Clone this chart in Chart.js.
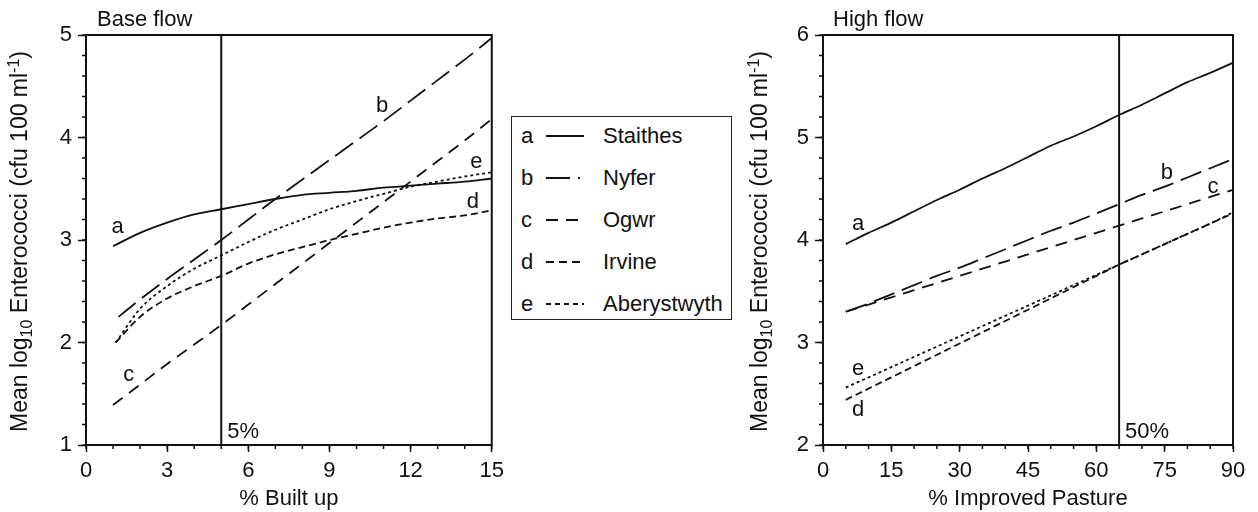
<!DOCTYPE html>
<html>
<head>
<meta charset="utf-8">
<script src="https://cdn.jsdelivr.net/npm/chart.js@4.4.1/dist/chart.umd.min.js"></script>
<style>
  body { margin: 0; background: #fff; width: 1258px; height: 512px; position: relative; overflow: hidden;
         font-family: 'Liberation Sans', Arial, sans-serif; color: #111; }
  .panel { position: absolute; top: 0; height: 512px; }
  #basePanel { left: 0; width: 510px; }
  #highPanel { left: 740px; width: 518px; }
  #legend { position: absolute; left: 511px; top: 116px; width: 221px; height: 204px;
            border: 1.5px solid #222; box-sizing: border-box; }
  .row { position: absolute; left: 0; width: 100%; height: 30px; line-height: 30px; font-size: 22px; }
  .row .code { position: absolute; left: 9px; }
  .row svg { position: absolute; left: 34px; top: 10px; }
  .row .name { position: absolute; left: 91px; }
</style>
</head>
<body>
<div class="panel" id="basePanel"><canvas id="baseChart"></canvas></div>
<div id="legend"></div>
<div class="panel" id="highPanel"><canvas id="highChart"></canvas></div>
<script>
Chart.defaults.font.family = "'Liberation Sans', Arial, sans-serif";
Chart.defaults.font.size = 22;
Chart.defaults.color = '#111';
Chart.defaults.animation = false;

const SERIES_CODES = ['a', 'b', 'c', 'd', 'e'];
const SERIES_NAMES = ['Staithes', 'Nyfer', 'Ogwr', 'Irvine', 'Aberystwyth'];

// Base flow, x = % built up. First value of each curve sits at its own start x,
// the rest at BASE_X.
const BASE_X = [2, 3, 4, 5, 6, 7, 8, 9, 10, 11, 12, 13, 14, 15];
const BASE_START_X = [1.0, 1.2, 1.0, 1.1, 1.1];
const BASE_A = [2.94, 3.07, 3.17, 3.25, 3.30, 3.35, 3.40, 3.44, 3.46, 3.48, 3.51, 3.53, 3.55, 3.57, 3.60];
const BASE_B = [2.25, 2.42, 2.62, 2.81, 3.00, 3.20, 3.40, 3.59, 3.78, 3.97, 4.16, 4.36, 4.56, 4.76, 4.97];
const BASE_C = [1.39, 1.59, 1.79, 1.98, 2.17, 2.37, 2.57, 2.77, 2.97, 3.17, 3.37, 3.57, 3.77, 3.97, 4.18];
const BASE_D = [2.00, 2.25, 2.43, 2.55, 2.65, 2.77, 2.86, 2.93, 3.00, 3.06, 3.12, 3.17, 3.21, 3.24, 3.29];
const BASE_E = [2.00, 2.33, 2.55, 2.72, 2.85, 2.98, 3.10, 3.20, 3.30, 3.38, 3.45, 3.52, 3.57, 3.62, 3.66];
const BASE_REF_X = 5;
const BASE_X_TICKS = [0, 3, 6, 9, 12, 15];
const BASE_Y_TICKS = [1, 2, 3, 4, 5];
const BASE_LABEL_X = [1.17, 10.95, 1.58, 14.3, 14.43];
const BASE_LABEL_Y = [3.13, 4.31, 1.68, 3.37, 3.76];

// High flow, x = % improved pasture
const HIGH_X = [5, 10, 15, 20, 25, 30, 35, 40, 45, 50, 55, 60, 65, 70, 75, 80, 85, 90];
const HIGH_A = [3.96, 4.07, 4.17, 4.28, 4.39, 4.49, 4.60, 4.70, 4.81, 4.92, 5.01, 5.11, 5.22, 5.32, 5.43, 5.54, 5.63, 5.73];
const HIGH_B = [3.30, 3.38, 3.47, 3.56, 3.65, 3.73, 3.82, 3.91, 4.00, 4.09, 4.17, 4.26, 4.35, 4.44, 4.52, 4.61, 4.70, 4.79];
const HIGH_C = [3.30, 3.37, 3.44, 3.51, 3.58, 3.65, 3.72, 3.79, 3.86, 3.93, 4.00, 4.07, 4.14, 4.21, 4.28, 4.35, 4.42, 4.49];
const HIGH_D = [2.44, 2.55, 2.66, 2.77, 2.88, 2.99, 3.10, 3.21, 3.32, 3.43, 3.54, 3.65, 3.76, 3.86, 3.96, 4.06, 4.16, 4.26];
const HIGH_E = [2.56, 2.66, 2.76, 2.86, 2.96, 3.06, 3.16, 3.26, 3.36, 3.46, 3.56, 3.66, 3.76, 3.86, 3.96, 4.06, 4.16, 4.27];
const HIGH_REF_X = 65;
const HIGH_X_TICKS = [0, 15, 30, 45, 60, 75, 90];
const HIGH_Y_TICKS = [2, 3, 4, 5, 6];
const HIGH_LABEL_X = [7.7, 75.5, 85.6, 7.7, 7.7];
const HIGH_LABEL_Y = [4.16, 4.65, 4.52, 2.34, 2.74];

const DASHES = [[], [22, 8], [12, 8], [7, 4], [3, 3]];
const LEGEND_DASH = ['none', '24,8,2,8', '12,8', '8,5', '5,4'];

// legend box between the panels
const legendBox = document.getElementById('legend');
SERIES_CODES.forEach((c, i) => {
  const row = document.createElement('div');
  row.className = 'row';
  row.style.top = (4 + i * 42) + 'px';
  row.innerHTML = `<span class="code">${c}</span>` +
    `<svg width="40" height="10"><line x1="0" y1="5" x2="38" y2="5" stroke="#111" stroke-width="2" stroke-dasharray="${LEGEND_DASH[i]}"/></svg>` +
    `<span class="name">${SERIES_NAMES[i]}</span>`;
  legendBox.appendChild(row);
});

const decor = {
  id: 'decor',
  afterDatasetsDraw(chart, args, o) {
    const { ctx, chartArea: ca, scales: { x, y } } = chart;
    ctx.save();
    ctx.strokeStyle = '#111';
    ctx.lineWidth = 2;
    ctx.strokeRect(ca.left, ca.top, ca.right - ca.left, ca.bottom - ca.top);

    // minor ticks
    ctx.lineWidth = 1.5;
    ctx.beginPath();
    for (let v = x.min; v <= x.max + 1e-9; v += o.minorX) {
      const px = x.getPixelForValue(v);
      ctx.moveTo(px, ca.bottom); ctx.lineTo(px, ca.bottom + 4);
    }
    for (let v = y.min; v <= y.max + 1e-9; v += o.minorY) {
      const py = y.getPixelForValue(v);
      ctx.moveTo(ca.left, py); ctx.lineTo(ca.left - 4, py);
    }
    ctx.stroke();

    ctx.fillStyle = '#111';
    ctx.font = "22px 'Liberation Sans', Arial, sans-serif";
    ctx.textAlign = 'left';
    ctx.textBaseline = 'alphabetic';
    ctx.fillText(o.title, o.titleX, 26);
    ctx.textAlign = 'center';
    ctx.fillText(o.xTitle, (ca.left + ca.right) / 2, 505);

    // curve letters
    ctx.textBaseline = 'middle';
    SERIES_CODES.forEach((c, i) => {
      ctx.fillText(c, x.getPixelForValue(o.labelX[i]), y.getPixelForValue(o.labelY[i]));
    });
    ctx.textAlign = 'left';
    ctx.fillText(o.refLabel, x.getPixelForValue(o.refX) + 6, ca.bottom - 13);

    // y title with subscript / superscript
    const parts = [
      { t: 'Mean log', s: 1, dy: 0 },
      { t: '10', s: 0.68, dy: 5 },
      { t: ' Enterococci (cfu 100 ml', s: 1, dy: 0 },
      { t: '-1', s: 0.68, dy: -8 },
      { t: ')', s: 1, dy: 0 }
    ];
    ctx.translate(27, 432);
    ctx.rotate(-Math.PI / 2);
    ctx.textBaseline = 'alphabetic';
    let cx = 0;
    parts.forEach(p => {
      ctx.font = `${Math.round(23 * p.s)}px 'Liberation Sans', Arial, sans-serif`;
      ctx.fillText(p.t, cx, p.dy);
      cx += ctx.measureText(p.t).width;
    });
    ctx.restore();
  }
};

function makeChart(id, o) {
  const datasets = o.series.map((vals, i) => ({
    label: SERIES_NAMES[i],
    data: vals.map((v, k) => ({ x: o.xs[i][k], y: v })),
    borderColor: '#111',
    borderWidth: 1.8,
    borderDash: DASHES[i],
    pointRadius: 0,
    cubicInterpolationMode: 'monotone'
  }));
  datasets.push({
    label: 'ref',
    data: [{ x: o.refX, y: o.yTicks[0] }, { x: o.refX, y: o.yTicks[o.yTicks.length - 1] }],
    borderColor: '#111',
    borderWidth: 2,
    pointRadius: 0
  });

  const canvas = document.getElementById(id);
  canvas.width = o.width;
  canvas.height = 512;

  return new Chart(canvas, {
    type: 'line',
    data: { datasets },
    options: {
      responsive: false,
      layout: { padding: { top: 35, right: o.padRight, left: 0, bottom: 0 } },
      plugins: {
        legend: { display: false },
        tooltip: { enabled: false },
        decor: {
          minorX: o.minorX, minorY: o.minorY,
          title: o.title, titleX: o.titleX, xTitle: o.xTitle,
          labelX: o.labelX, labelY: o.labelY,
          refX: o.refX, refLabel: o.refLabel
        }
      },
      scales: {
        x: {
          type: 'linear',
          min: o.xTicks[0], max: o.xTicks[o.xTicks.length - 1],
          afterBuildTicks: s => { s.ticks = o.xTicks.map(v => ({ value: v })); },
          afterFit: s => { s.height = 67; },
          grid: { drawOnChartArea: false, tickLength: 7, tickColor: '#111', tickWidth: 1.5 },
          border: { color: '#111', width: 2 },
          ticks: { padding: 6, maxRotation: 0, color: '#111', font: { size: 22 } }
        },
        y: {
          type: 'linear',
          min: o.yTicks[0], max: o.yTicks[o.yTicks.length - 1],
          afterBuildTicks: s => { s.ticks = o.yTicks.map(v => ({ value: v })); },
          afterFit: s => { s.width = o.yWidth; },
          grid: { drawOnChartArea: false, tickLength: 8, tickColor: '#111', tickWidth: 1.5 },
          border: { color: '#111', width: 2 },
          ticks: { padding: 6, color: '#111', font: { size: 22 } }
        }
      }
    },
    plugins: [decor]
  });
}

const baseXs = BASE_START_X.map(s => [s].concat(BASE_X));
makeChart('baseChart', {
  width: 510, padRight: 15, yWidth: 86,
  xs: baseXs,
  series: [BASE_A, BASE_B, BASE_C, BASE_D, BASE_E],
  xTicks: BASE_X_TICKS, yTicks: BASE_Y_TICKS,
  minorX: 1, minorY: 0.2,
  refX: BASE_REF_X, refLabel: '5%',
  title: 'Base flow', titleX: 97, xTitle: '% Built up',
  labelX: BASE_LABEL_X, labelY: BASE_LABEL_Y
});

makeChart('highChart', {
  width: 518, padRight: 25, yWidth: 83,
  xs: SERIES_CODES.map(() => HIGH_X),
  series: [HIGH_A, HIGH_B, HIGH_C, HIGH_D, HIGH_E],
  xTicks: HIGH_X_TICKS, yTicks: HIGH_Y_TICKS,
  minorX: 5, minorY: 0.2,
  refX: HIGH_REF_X, refLabel: '50%',
  title: 'High flow', titleX: 93, xTitle: '% Improved Pasture',
  labelX: HIGH_LABEL_X, labelY: HIGH_LABEL_Y
});
</script>
</body>
</html>
